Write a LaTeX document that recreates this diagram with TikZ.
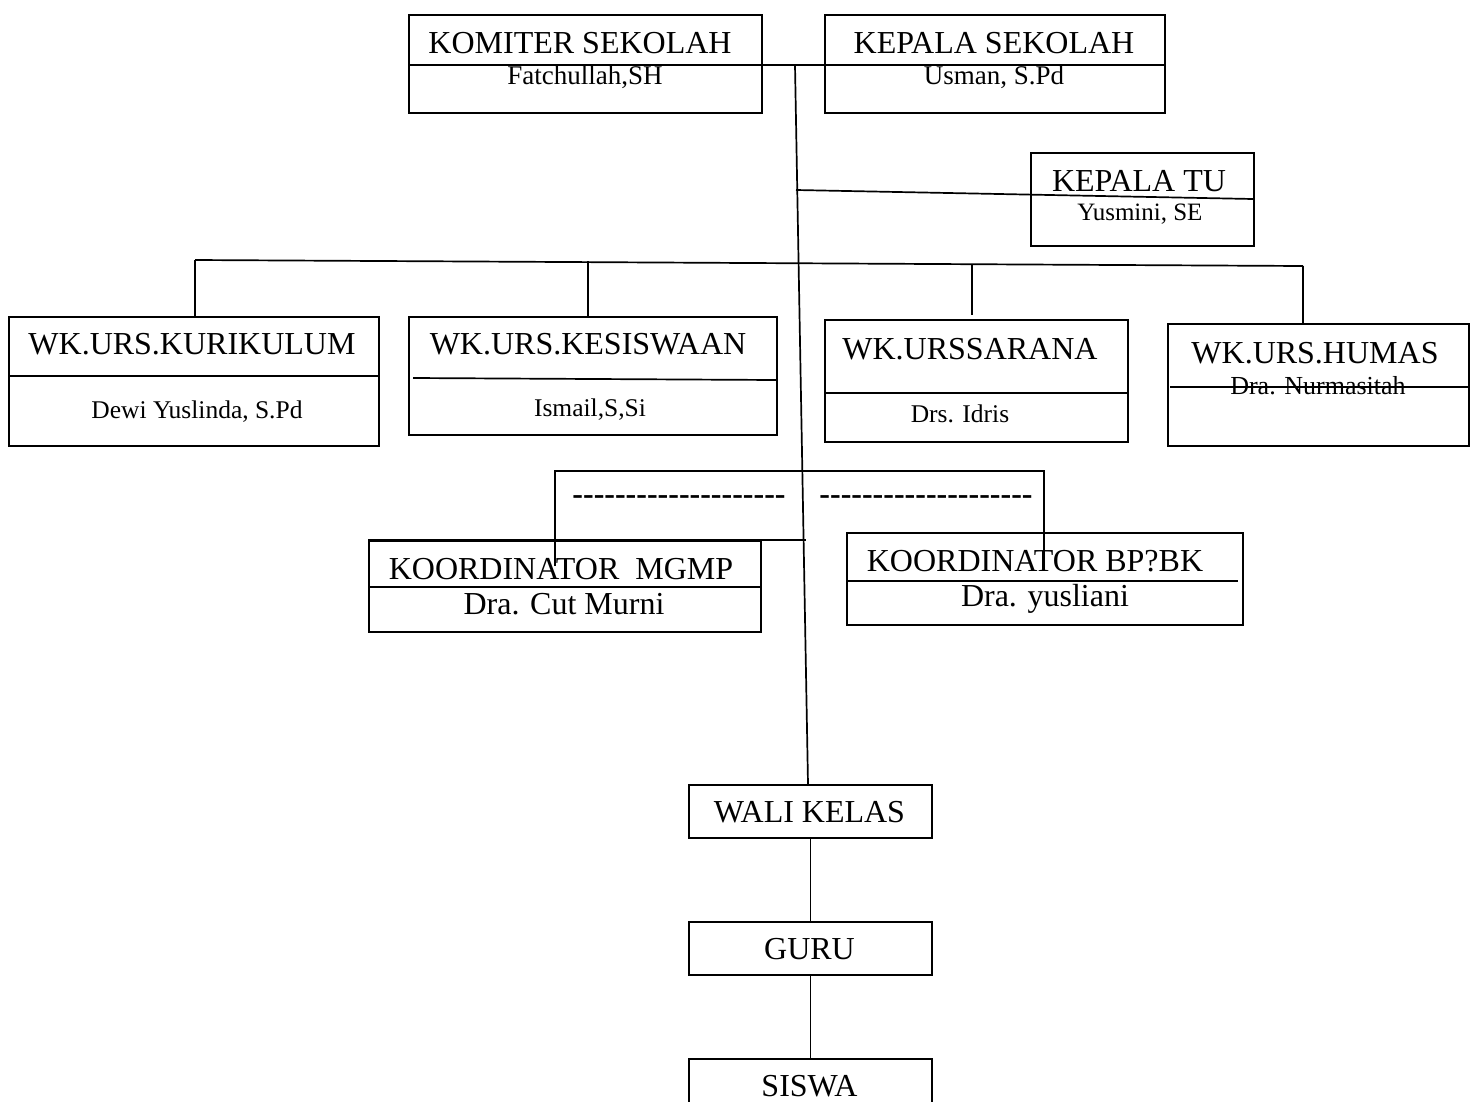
\documentclass[tikz,border=0pt]{standalone}
\usepackage{fontspec}
\setmainfont{Liberation Serif}
\newcommand\hy{\mbox{-}}
\newcommand\dashrow{\hy\hy\hy\hy\hy\hy\hy\hy\hy\hy\hy\hy\hy\hy\hy\hy\hy\hy\hy\hy}
\begin{document}
\begin{tikzpicture}[x=1pt,y=-1pt,line width=1.7pt,
  box/.style={draw,line width=1.7pt,anchor=north west,inner sep=0pt,minimum width=#1},
  big/.style={inner sep=0pt,font=\fontsize{32}{36}\selectfont},
  small/.style={inner sep=0pt,font=\fontsize{#1}{30}\selectfont},
  small/.default=25.5,
  dashtxt/.style={inner sep=0pt,font=\fontsize{32}{36}\selectfont\bfseries}]
\useasboundingbox (0,0) rectangle (1476,1101);
% boxes
\node[box=353,minimum height=98] (kom) at (408,14) {};
\node[box=340,minimum height=98] (kep) at (824,14) {};
\node[box=223,minimum height=93] (tu) at (1030,152) {};
\node[box=370,minimum height=129] (kur) at (8,316) {};
\node[box=368,minimum height=118] (kes) at (408,316) {};
\node[box=303,minimum height=122] (sar) at (824,319) {};
\node[box=301,minimum height=122] (hum) at (1167,323) {};
\node[box=392,minimum height=91] (mgmp) at (368,540) {};
\node[box=396,minimum height=92] (bpbk) at (846,532) {};
\node[box=243,minimum height=53] (wali) at (688,784) {};
\node[box=243,minimum height=53] (guru) at (688,921) {};
\node[box=243,minimum height=60] (siswa) at (688,1058) {};
% texts
\node[big] (komt) at (580,43) {KOMITER SEKOLAH};
\node[small=27] (komn) at (585,77) {Fatchullah,SH};
\node[big] (kept) at (994,43) {KEPALA SEKOLAH};
\node[small=27] (kepn) at (994,77) {Usman, S.Pd};
\node[big] (tut) at (1139,181) {KEPALA TU};
\node[small=25] (tun) at (1140,214) {Yusmini, SE};
\node[big] (kurt) at (192,344) {WK.URS.KURIKULUM};
\node[small] (kurn) at (197,412) {Dewi Yuslinda, S.Pd};
\node[big] (kest) at (588,344) {WK.URS.KESISWAAN};
\node[small] (kesn) at (590,410) {Ismail,S,Si};
\node[big] (sart) at (970,349) {WK.URSSARANA};
\node[small] (sarn) at (960,414) {Drs. Idris};
\node[big] (humt) at (1315,353) {WK.URS.HUMAS};
\node[small=26] (humn) at (1318,386) {Dra. Nurmasitah};
\node[big] (mgmpt) at (561,569) {KOORDINATOR\ \ MGMP};
\node[big] (mgmpn) at (564,604) {Dra. Cut Murni};
\node[big] (bpbkt) at (1035,561) {KOORDINATOR BP?BK};
\node[big] (bpbkn) at (1045,599) {Dra. yusliani};
\node[dashtxt] (d1) at (679,500) {\dashrow};
\node[dashtxt] (d2) at (926,500) {\dashrow};
\node[big] (walit) at (809.5,812) {WALI KELAS};
\node[big] (gurut) at (809.5,949) {GURU};
\node[big] (siswat) at (809.5,1086) {SISWA};
% dividers
\draw (408,65) -- (1164,65);
\draw (8,376) -- (378,376);
\draw (413,378) -- (776,380);
\draw (824,393) -- (1127,393);
\draw (1170,387) -- (1470,387);
\draw (368,587) -- (760,587);
\draw (846,581) -- (1238,581);
% connectors
\coordinate (top) at (795,65);
\coordinate (wtop) at (808,784);
\draw (top) -- (wtop);
\coordinate (tuj) at (796,190);
\coordinate (tue) at (1253,199);
\draw (tuj) -- (tue);
\coordinate (h1) at (195,260);
\coordinate (h2) at (588,261);
\coordinate (h3) at (972,264);
\coordinate (h4) at (1303,266);
\draw (h1) -- (h4);
\draw (h1) -- (h1 |- kur.north);
\draw (h2) -- (h2 |- kes.north);
\draw (h3) -- ([yshift=4pt]h3 |- sar.north);
\draw (h4) -- (h4 |- hum.north);
\coordinate (k1) at (555,471);
\coordinate (k2) at (1044,471);
\coordinate (k1e) at (555,566);
\coordinate (k2e) at (1044,567);
\draw (k1e) -- (k1) -- (k2) -- (k2e);
\coordinate (mgmpx) at (806,540);
\draw (mgmp.north west) -- (mgmpx);
\draw (wali.south) -- (guru.north);
\draw (guru.south) -- (siswa.north);
\end{tikzpicture}
\end{document}
